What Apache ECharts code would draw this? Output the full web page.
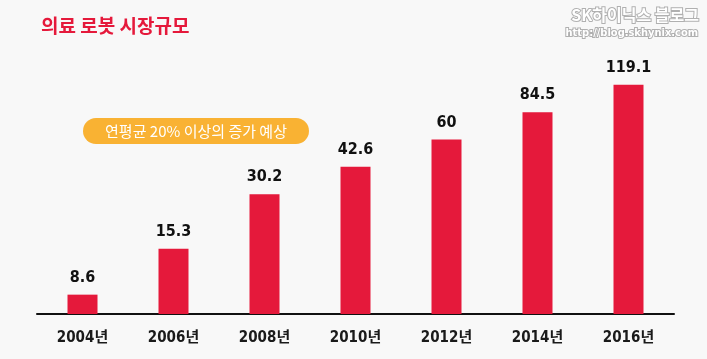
<!DOCTYPE html>
<html><head><meta charset="utf-8">
<script src="https://cdn.jsdelivr.net/npm/echarts@6/dist/echarts.min.js"></script>
<style>html,body{margin:0;padding:0;background:#f8f8f8}#c{width:707px;height:359px}</style>
</head><body><div id="c"></div>
<script>
const categories = ['2004년','2006년','2008년','2010년','2012년','2014년','2016년'];
const values = [8.6, 15.3, 30.2, 42.6, 60, 84.5, 119.1];
const title = '의료 로봇 시장규모';
const badgeText = '연평균 20% 이상의 증가 예상';
const numFont = "'DejaVu Sans Condensed','Noto Sans CJK KR',sans-serif";
const krFont = "'Noto Sans CJK KR',sans-serif";

const chart = echarts.init(document.getElementById('c'));
chart.setOption({
  backgroundColor: '#f8f8f8',
  animation: false,
  title: {
    text: title, left: 36, top: 11,
    textStyle: {color: '#e5193b', fontSize: 19, fontWeight: 'bold', fontFamily: krFont}
  },
  grid: {left: 37, right: 33, top: 54, bottom: 45},
  xAxis: {
    type: 'category', data: categories,
    axisLine: {lineStyle: {color: '#111', width: 2}},
    axisTick: {show: false},
    axisLabel: {color: '#1a1a1a', fontSize: 15, fontWeight: 'bold', fontFamily: numFont, margin: 17}
  },
  yAxis: {
    type: 'log', logBase: 10, min: 6.75, max: 175, show: false,
    splitLine: {show: false}
  },
  series: [{
    type: 'bar', data: values, barWidth: 30,
    itemStyle: {color: '#e5193b'},
    label: {show: true, position: 'top', distance: 9, color: '#111', fontSize: 16, fontWeight: 'bold', fontFamily: numFont}
  }],
  graphic: [
    {type: 'rect', x: 83, y: 118, shape: {width: 226, height: 26, r: 13}, style: {fill: '#f9b233'}},
    {type: 'text', x: 196, y: 131, style: {text: badgeText, fill: '#fff', fontSize: 15, fontFamily: krFont, textAlign: 'center', textVerticalAlign: 'middle', align: 'center', verticalAlign: 'middle'}},
    {type: 'text', right: 7, top: 6, style: {text: 'SK하이닉스 블로그', fill: '#fff', stroke: '#b0b0b0', lineWidth: 2, fontSize: 16, fontWeight: 'bold', fontFamily: krFont}},
    {type: 'text', right: 8, top: 27, style: {text: 'http://blog.skhynix.com', fill: '#fff', stroke: '#b0b0b0', lineWidth: 2, fontSize: 11, fontWeight: 'bold', fontFamily: numFont}}
  ]
});
</script></body></html>
